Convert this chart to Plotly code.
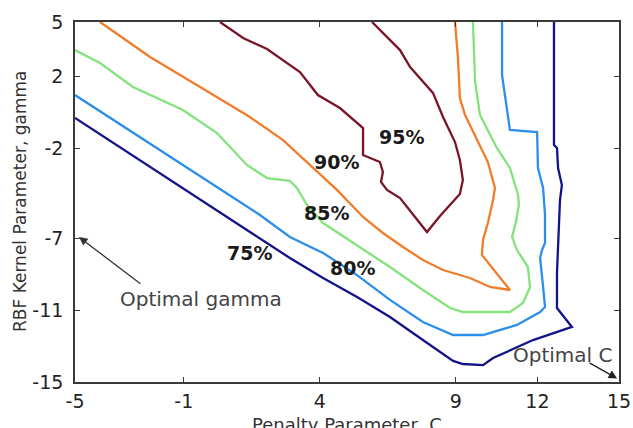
import plotly.graph_objects as go

# ---- data ----
levels = ["75%", "80%", "85%", "90%", "95%"]

c75_x = [-5, -3.09, -1.25, 1.32, 2.90, 4.12, 5.37, 6.58, 7.79, 8.90, 9.26, 10.0, 10.37, 11.84, 13.27,
         12.72, 12.72, 12.76, 12.83, 12.90, 12.76, 12.72, 12.61, 12.61]
c75_y = [-0.33, -2.22, -4.06, -6.56, -8.11, -9.22, -10.28, -11.39, -12.67, -13.83, -14.0, -14.06, -13.67,
         -12.67, -11.94, -10.89, -8.94, -7.11, -4.89, -4.06, -3.11, -2.0, -1.83, 5]

c80_x = [-5, -3.09, -0.66, 1.80, 2.90, 4.12, 5.37, 6.58, 7.79, 8.90, 10.0, 11.25, 12.10, 12.28, 12.21,
         12.10, 12.17, 12.28, 12.28, 12.21, 12.02, 11.99, 10.99, 10.88, 10.70, 10.70]
c80_y = [0.94, -0.94, -3.33, -5.72, -6.94, -7.83, -9.06, -10.44, -11.67, -12.39, -12.39, -11.83, -11.11,
         -10.83, -9.72, -8.11, -7.67, -7.28, -5.72, -4.22, -3.11, -1.11, -1.0, 0.22, 2.06, 5]

c85_x = [-5, -4.08, -2.87, -1.03, 0.22, 1.32, 2.06, 2.90, 3.16, 3.53, 4.12, 5.37, 6.58, 7.79, 8.79, 9.26,
         10.99, 11.47, 11.73, 11.65, 11.25, 11.07, 11.21, 11.32, 11.29, 10.99, 10.51, 9.89, 9.71, 9.63]
c85_y = [3.44, 2.72, 1.39, 0.11, -1.17, -2.94, -3.67, -3.83, -4.22, -5.17, -6.17, -7.39, -8.61, -9.89,
         -10.89, -11.11, -11.11, -10.61, -9.72, -8.61, -7.67, -6.94, -6.11, -5.17, -4.61, -3.11, -2.0,
         -0.17, 1.67, 5]

c90_x = [-4.08, -2.24, -0.40, 1.43, 2.65, 4.01, 4.63, 5.59, 6.32, 7.06, 7.79, 8.53, 9.52, 10.26, 10.99,
         9.96, 10.0, 10.18, 10.37, 10.44, 10.18, 9.82, 9.34, 9.15, 9.08, 8.97]
c90_y = [5, 3.06, 1.39, -0.28, -1.56, -3.5, -4.33, -5.83, -6.72, -7.5, -8.22, -8.78, -9.22, -9.72, -9.89,
         -7.94, -7.11, -6.17, -4.89, -4.22, -2.78, -1.67, -0.17, 0.78, 3.0, 5]

c95_x = [0.33, 1.18, 2.06, 3.27, 3.93, 4.74, 5.59, 5.59, 6.21, 6.32, 6.25, 6.47, 6.95, 7.94, 8.42, 9.15,
         9.26, 9.15, 8.97, 8.53, 8.16, 7.32, 6.95, 5.92]
c95_y = [5, 4.11, 3.5, 2.22, 0.94, 0.22, -0.89, -2.39, -2.78, -3.33, -3.89, -4.33, -4.78, -6.67, -5.78,
         -4.56, -3.78, -2.67, -1.67, -0.28, 1.06, 2.5, 3.44, 5]

label_x = [1.43, 5.22, 4.26, 4.63, 7.02]
label_y = [-7.83, -8.67, -5.61, -2.78, -1.39]

x_ticks = [-5, -1, 4, 9, 12, 15]
y_ticks = [-15, -11, -7, -2, 2, 5]

# ---- styling ----
colors = ["#13138a", "#2b8fea", "#84e37c", "#f07c2c", "#7a1428"]
lines_x = [c75_x, c80_x, c85_x, c90_x, c95_x]
lines_y = [c75_y, c80_y, c85_y, c90_y, c95_y]

fig = go.Figure()
for lx, ly, col, name in zip(lines_x, lines_y, colors, levels):
    fig.add_trace(go.Scatter(x=lx, y=ly, mode="lines", name=name,
                             line=dict(color=col, width=2.3), hoverinfo="skip"))

annotations = []
for tx, ty, t in zip(label_x, label_y, levels):
    annotations.append(dict(x=tx, y=ty, xref="x", yref="y", text="<b>%s</b>" % t,
                            showarrow=False, font=dict(family="DejaVu Sans", size=19, color="#1a1a1a")))

# Optimal gamma
annotations.append(dict(x=-0.37, y=-10.39, xref="x", yref="y", text="Optimal gamma", showarrow=False,
                        font=dict(family="DejaVu Sans", size=20, color="#444444")))
annotations.append(dict(x=-4.85, y=-6.95, xref="x", yref="y", ax=-2.54, ay=-9.61, axref="x", ayref="y",
                        text="", showarrow=True, arrowhead=2, arrowsize=1.3, arrowwidth=1.3,
                        arrowcolor="#333333"))
# Optimal C
annotations.append(dict(x=12.94, y=-13.5, xref="x", yref="y", text="Optimal C", showarrow=False,
                        font=dict(family="DejaVu Sans", size=20, color="#444444")))
annotations.append(dict(x=14.93, y=-14.8, xref="x", yref="y", ax=13.86, ay=-13.89, axref="x", ayref="y",
                        text="", showarrow=True, arrowhead=2, arrowsize=1.3, arrowwidth=1.3,
                        arrowcolor="#222222"))

# axis titles
annotations.append(dict(x=0.5, y=0, xref="paper", yref="paper", xanchor="center", yanchor="middle",
                        yshift=-42, text="Penalty Parameter, C", showarrow=False,
                        font=dict(family="DejaVu Sans", size=18, color="#333333")))
annotations.append(dict(x=0, y=0.5, xref="paper", yref="paper", xanchor="center", yanchor="middle",
                        xshift=-55, textangle=-90, text="RBF Kernel Parameter, gamma", showarrow=False,
                        font=dict(family="DejaVu Sans", size=17, color="#333333")))

axis_common = dict(showgrid=False, zeroline=False, showline=True, linecolor="#3a3a3a", linewidth=1.6,
                   mirror="ticks", ticks="inside", ticklen=5, tickwidth=1.3, tickcolor="#3a3a3a",
                   automargin=False,
                   tickfont=dict(family="DejaVu Sans", size=19, color="#222222"))

fig.update_layout(
    width=633, height=428,
    margin=dict(l=75, r=14, t=22, b=46),
    paper_bgcolor="white", plot_bgcolor="white",
    showlegend=False,
    annotations=annotations,
    xaxis=dict(range=[-5, 15], tickvals=x_ticks, ticktext=[str(v) for v in x_ticks],
               ticklabelstandoff=1, **axis_common),
    yaxis=dict(range=[-15, 5], tickvals=y_ticks, ticktext=[str(v) for v in y_ticks],
               ticklabelstandoff=6, **axis_common),
)

fig.write_html("out.html", config={"displayModeBar": False},
               post_script="document.body.style.margin='0px';document.body.style.overflow='hidden';")
